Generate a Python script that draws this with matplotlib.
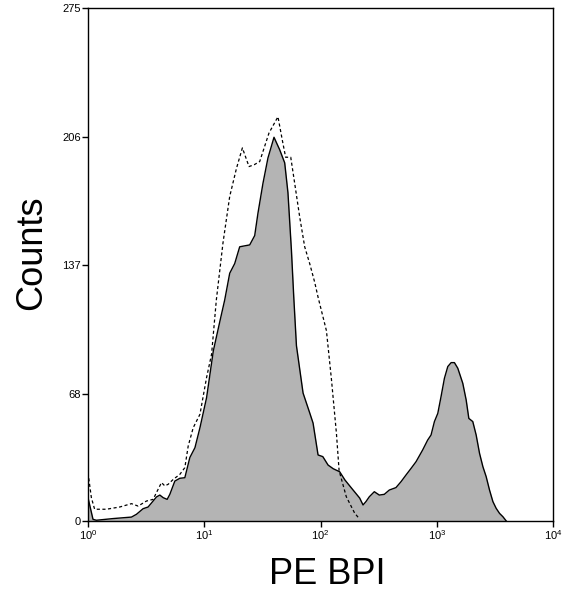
import numpy as np
import matplotlib
matplotlib.use("Agg")
import matplotlib.pyplot as plt

plt.rcParams['font.family'] = ['Liberation Sans', 'DejaVu Sans']
plt.rcParams['mathtext.fontset'] = 'custom'
plt.rcParams['mathtext.rm'] = 'Liberation Sans'
plt.rcParams['mathtext.it'] = 'Liberation Sans'

# decade position (log10 of PE intensity) and counts
stained_log = [0.000, 0.043, 0.072, 0.216, 0.374, 0.417, 0.474, 0.517, 0.560, 0.589,
               0.618, 0.647, 0.681, 0.704, 0.747, 0.790, 0.833, 0.876, 0.920, 0.963,
               1.020, 1.078, 1.135, 1.176, 1.219, 1.262, 1.305, 1.391, 1.434, 1.462,
               1.505, 1.548, 1.600, 1.649, 1.692, 1.720, 1.750, 1.770, 1.793, 1.850,
               1.907, 1.936, 1.979, 2.020, 2.065, 2.110, 2.165, 2.210, 2.266, 2.337,
               2.366, 2.391, 2.420, 2.463, 2.506, 2.549, 2.592, 2.649, 2.693, 2.736,
               2.779, 2.822, 2.879, 2.922, 2.951, 2.980, 3.009, 3.037, 3.066, 3.095,
               3.124, 3.152, 3.181, 3.224, 3.253, 3.276, 3.310, 3.339, 3.368, 3.397,
               3.425, 3.454, 3.483, 3.511, 3.540, 3.569, 3.598]
stained_counts = [12.5, 0.9, 0.4, 1.3, 2.1, 3.6, 6.6, 7.5, 10.7, 12.9,
                  13.9, 12.5, 11.6, 14.3, 21.4, 22.9, 23.2, 34.0, 39.3, 50.0,
                  66.1, 91.2, 107.2, 118.5, 132.8, 138.0, 147.0, 148.0, 153.0, 165.0,
                  181.0, 194.6, 205.7, 199.0, 192.0, 176.0, 145.0, 120.0, 94.0, 68.6,
                  58.0, 52.5, 35.4, 34.5, 30.0, 28.0, 26.4, 22.0, 17.7, 12.3,
                  8.6, 10.4, 13.0, 15.7, 13.9, 14.3, 16.6, 17.9, 21.1, 24.7,
                  28.2, 31.8, 38.1, 43.4, 46.1, 53.3, 57.7, 66.7, 76.5, 82.8,
                  84.9, 84.9, 81.9, 73.8, 64.9, 55.0, 53.3, 46.1, 36.3, 29.1,
                  23.8, 16.6, 10.4, 6.8, 4.1, 2.3, 0.0]

control_log = [0.000, 0.029, 0.057, 0.158, 0.273, 0.374, 0.431, 0.503, 0.560, 0.632,
               0.661, 0.690, 0.733, 0.790, 0.833, 0.862, 0.905, 0.963, 1.020, 1.063,
               1.104, 1.161, 1.219, 1.277, 1.328, 1.385, 1.430, 1.477, 1.557, 1.634,
               1.672, 1.700, 1.744, 1.778, 1.821, 1.864, 1.907, 1.950, 1.979, 2.051,
               2.094, 2.137, 2.160, 2.222, 2.294, 2.337]
control_counts = [25.9, 12.5, 6.3, 6.3, 7.5, 9.3, 8.0, 10.7, 11.6, 20.6,
                  18.8, 19.7, 22.3, 25.0, 28.6, 40.2, 50.0, 57.2, 76.9, 89.4,
                  118.5, 149.0, 174.0, 189.0, 200.0, 190.0, 191.0, 192.7, 208.0, 216.7,
                  204.0, 195.0, 195.0, 181.0, 163.0, 147.0, 138.0, 128.0, 120.0, 102.0,
                  76.0, 47.0, 27.0, 13.0, 4.2, 1.0]

y_ticks = [0, 68, 137, 206, 275]
x_ticks = [1, 10, 100, 1000, 10000]
x_tick_labels = ['10$^{0}$', '10$^{1}$', '10$^{2}$', '10$^{3}$', '10$^{4}$']

stained_x = 10 ** np.array(stained_log)
control_x = 10 ** np.array(control_log)

fig = plt.figure(figsize=(5.66, 5.96), dpi=100)
ax = fig.add_axes([88 / 566, 1 - 521 / 596, 465 / 566, 513 / 596])

ax.fill_between(stained_x, stained_counts, 0, color='#b4b4b4', linewidth=0)
ax.plot(stained_x, stained_counts, color='black', linewidth=1.0)
ax.plot(control_x, control_counts, color='black', linewidth=0.9, linestyle=(0, (2.5, 2)))

ax.set_xscale('log')
ax.set_xlim(1, 10000)
ax.set_ylim(0, 275)
ax.set_xticks(x_ticks)
ax.set_xticklabels(x_tick_labels)
ax.xaxis.set_minor_locator(matplotlib.ticker.NullLocator())
ax.set_yticks(y_ticks)
ax.tick_params(direction='out', length=4, width=1, labelsize=8, pad=1)
for s in ax.spines.values():
    s.set_linewidth(1)

fig.text(32 / 566, 1 - 253 / 596, 'Counts', rotation=90, ha='center', va='center', fontsize=26)
fig.text(327 / 566, 1 - 575 / 596, 'PE BPI', ha='center', va='center', fontsize=26)

fig.savefig('out.png', dpi=100)
